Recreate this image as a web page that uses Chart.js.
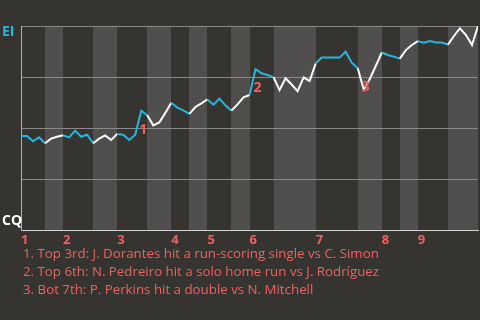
<!DOCTYPE html>
<html>
<head>
<meta charset="utf-8">
<script src="https://cdn.jsdelivr.net/npm/chart.js@4/dist/chart.umd.min.js"></script>
<style>
  html, body { margin: 0; padding: 0; background: #363430; }
  #wrap { width: 480px; height: 320px; position: relative; }
</style>
</head>
<body>
<div id="wrap"><canvas id="c" width="480" height="320"></canvas></div>
<script>
// ---- data ----
const winProbEI = [46.1,46.1,43.5,45.4,42.5,44.8,45.7,46.4,45.4,48.7,
  45.7,46.7,42.5,44.8,46.4,44.1,47.1,46.7,44.1,46.7,
  58.5,56.2,51.3,52.7,57.4,62.4,60.0,58.6,56.9,60.3,
  62.1,64.0,61.4,64.4,61.1,58.5,61.6,65.0,66.2,78.8,
  76.8,76.0,74.9,68.6,74.4,71.3,68.1,74.8,73.0,81.6,
  84.5,84.5,84.5,84.5,87.4,82.0,79.3,68.9,74.0,80.4,
  87.0,85.8,85.0,84.0,88.2,90.7,92.6,91.8,92.6,91.9,
  91.9,90.9,95.1,98.9,95.6,90.7,100];
const halfInningStarts = [0,4,7,12,16,21,25,28,31,35,38,42,49,56,60,63,66,71,76];
const inningLabels = ['1','2','3','4','5','6','7','8','9'];
const teamTop = 'EI';
const teamBottom = 'CQ';
const eventIndices = [20, 39, 57];
const eventLabels = ['1','2','3'];
const footnotes = [
  '1. Top 3rd: J. Dorantes hit a run-scoring single vs C. Simon',
  '2. Top 6th: N. Pedreiro hit a solo home run vs J. Rodríguez',
  '3. Bot 7th: P. Perkins hit a double vs N. Mitchell'
];

// ---- style ----
const BG = '#363430';
const BAND_LIGHT = '#504f4d';
const CYAN = '#26b6de';
const WHITE = '#ffffff';
const RED = '#f0605f';
const FONT = "'Open Sans', sans-serif";

const inningStarts = halfInningStarts.filter((v, i) => i % 2 === 0 && i < halfInningStarts.length - 1);

function halfIndexOf(k) {
  for (let i = 0; i < halfInningStarts.length - 1; i++) {
    if (k >= halfInningStarts[i] && k < halfInningStarts[i + 1]) return i;
  }
  return halfInningStarts.length - 2;
}

const bandPlugin = {
  id: 'bands',
  beforeDraw(chart) {
    const { ctx, chartArea: a, scales: { x } } = chart;
    ctx.save();
    ctx.fillStyle = BG;
    ctx.fillRect(0, 0, chart.width, chart.height);
    for (let i = 0; i < halfInningStarts.length - 1; i++) {
      if (i % 2 === 1) {
        const x0 = Math.round(x.getPixelForValue(halfInningStarts[i]));
        const x1 = Math.round(x.getPixelForValue(halfInningStarts[i + 1]));
        ctx.fillStyle = BAND_LIGHT;
        ctx.fillRect(x0, a.top, x1 - x0, a.bottom - a.top);
      }
    }
    ctx.restore();
  },
  afterDraw(chart) {
    const { ctx, chartArea: a, scales: { x, y } } = chart;
    ctx.save();
    // team labels
    ctx.font = 'bold 14px ' + FONT;
    ctx.textAlign = 'left';
    ctx.textBaseline = 'top';
    ctx.fillStyle = CYAN;
    ctx.fillText(teamTop, 2, y.getPixelForValue(100) - 1);
    ctx.textBaseline = 'bottom';
    ctx.fillStyle = WHITE;
    ctx.fillText(teamBottom, 2, y.getPixelForValue(0) - 2);
    // event markers
    ctx.fillStyle = RED;
    ctx.textBaseline = 'top';
    eventIndices.forEach((k, i) => {
      const px = x.getPixelForValue(k);
      const py = Math.min(y.getPixelForValue(winProbEI[k - 1]), y.getPixelForValue(winProbEI[k]));
      ctx.fillText(eventLabels[i], px - 2, py + 12);
    });
    // footnotes
    ctx.font = '13.3px ' + FONT;
    ctx.textBaseline = 'middle';
    footnotes.forEach((t, i) => {
      ctx.fillText(t, 23, 254.5 + i * 18);
    });
    ctx.restore();
  }
};

new Chart(document.getElementById('c'), {
  type: 'line',
  data: {
    datasets: [{
      data: winProbEI.map((v, i) => ({ x: i, y: v })),
      borderWidth: 2,
      pointRadius: 0,
      tension: 0,
      fill: false,
      borderColor: WHITE,
      segment: {
        borderColor: ctx => (halfIndexOf(ctx.p0DataIndex) % 2 === 0 ? CYAN : WHITE)
      }
    }]
  },
  options: {
    responsive: false,
    animation: false,
    layout: { padding: { left: 21, top: 26, right: 2, bottom: 70 } },
    plugins: { legend: { display: false }, tooltip: { enabled: false } },
    scales: {
      x: {
        type: 'linear',
        min: 0,
        max: halfInningStarts[halfInningStarts.length - 1],
        afterBuildTicks: s => { s.ticks = inningStarts.map(v => ({ value: v })); },
        afterFit: s => { s.height = 20; },
        ticks: {
          autoSkip: false,
          maxRotation: 0,
          align: 'start',
          padding: 2,
          color: RED,
          font: { family: FONT, size: 13, weight: 'bold' },
          callback: (v, i) => inningLabels[i]
        },
        grid: { display: false, drawTicks: false },
        border: { display: true, color: '#d4d4d2', width: 1 }
      },
      y: {
        min: 0,
        max: 100,
        ticks: { display: false, stepSize: 25 },
        afterFit: s => { s.width = 0; },
        grid: { color: '#8a8987', lineWidth: 1, drawTicks: false },
        border: { display: true, color: '#b4b3b1', width: 1 }
      }
    }
  },
  plugins: [bandPlugin]
});
</script>
</body>
</html>
